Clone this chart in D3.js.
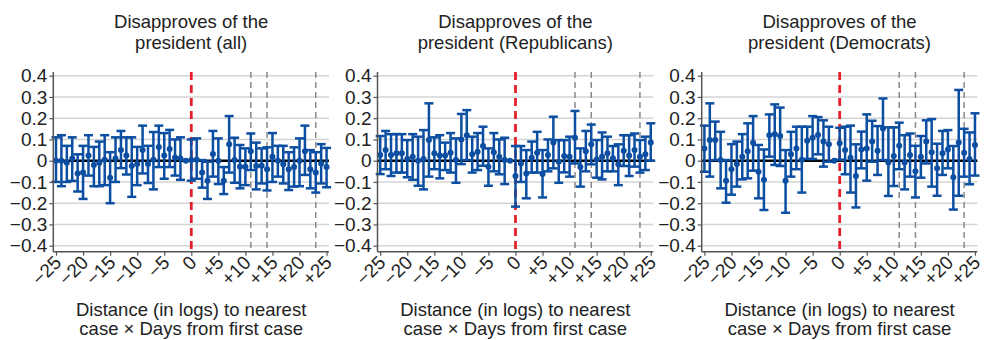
<!DOCTYPE html>
<html>
<head>
<meta charset="utf-8">
<script src="https://cdn.jsdelivr.net/npm/d3@7"></script>
<style>
  body { margin: 0; background: #fff; }
  svg { display: block; font-family: "Liberation Sans", Arial, sans-serif; }
</style>
</head>
<body>
<svg id="chart" width="984" height="340"></svg>
<script>
// x categories (distance x days interaction), k = -1 is the omitted reference
const distance = [-25, -24, -23, -22, -21, -20, -19, -18, -17, -16, -15, -14, -13, -12, -11, -10, -9, -8, -7, -6, -5, -4, -3, -2, -1,
  0, 1, 2, 3, 4, 5, 6, 7, 8, 9, 10, 11, 12, 13, 14, 15, 16, 17, 18, 19, 20, 21, 22, 23, 24, 25];
const xTicks = [-25, -20, -15, -10, -5, 0, 5, 10, 15, 20, 25];
const xTickLabels = ["−25", "−20", "−15", "−10", "−5", "0", "+5", "+10", "+15", "+20", "+25"];
const yTicks = [0.4, 0.3, 0.2, 0.1, 0, -0.1, -0.2, -0.3, -0.4];
const eventLines = [11, 14, 23];
const titles = [
  ["Disapproves of the", "president (all)"],
  ["Disapproves of the", "president (Republicans)"],
  ["Disapproves of the", "president (Democrats)"]
];
const xTitle = ["Distance (in logs) to nearest", "case × Days from first case"];

// panel 1: all
const allEst = [0, 0, -0.01, 0.01, -0.06, -0.055, 0.025, -0.02, -0.01, 0.005, -0.08, 0.01, 0.05, 0.025, -0.025, -0.015, 0.05, -0.015, 0.005, 0.065, 0.025, 0.055, 0.015, 0.01, 0,
  0.003, 0.005, -0.055, -0.094, 0.031, 0, -0.094, 0.077, 0.003, -0.028, -0.028, 0.045, -0.025, -0.024, -0.04, 0.019, 0, -0.017, -0.04, -0.03, 0, 0.045, -0.04, -0.055, -0.013, -0.03];
const allLo = [-0.1, -0.12, -0.1, -0.095, -0.145, -0.18, -0.07, -0.12, -0.12, -0.115, -0.2, -0.1, -0.035, -0.065, -0.17, -0.115, -0.06, -0.105, -0.135, -0.03, -0.085, -0.03, -0.07, -0.09, null,
  -0.094, -0.085, -0.127, -0.18, -0.075, -0.11, -0.157, -0.056, -0.104, -0.13, -0.115, -0.044, -0.135, -0.107, -0.14, -0.1, -0.075, -0.107, -0.138, -0.122, -0.12, -0.067, -0.13, -0.15, -0.107, -0.125];
const allHi = [0.11, 0.12, 0.07, 0.11, 0.03, 0.07, 0.12, 0.065, 0.09, 0.12, 0.04, 0.11, 0.14, 0.11, 0.11, 0.065, 0.165, 0.07, 0.135, 0.165, 0.13, 0.145, 0.1, 0.11, null,
  0.1, 0.105, 0.003, -0.005, 0.14, 0.105, -0.03, 0.21, 0.108, 0.074, 0.058, 0.128, 0.085, 0.058, 0.063, 0.13, 0.07, 0.07, 0.04, 0.063, 0.105, 0.165, 0.05, 0.04, 0.078, 0.06];

// panel 2: Republicans
const repEst = [0.027, 0.05, 0.027, 0.035, 0.035, 0.008, 0.019, 0, 0.008, 0.097, 0.035, 0.024, 0.024, 0.038, 0.003, 0.1, 0.12, 0.03, 0.042, 0.069, -0.028, 0.04, 0.019, 0.003, 0,
  -0.072, -0.013, -0.06, 0.014, 0.038, -0.063, 0.027, 0.086, -0.005, 0.022, 0.019, 0.108, -0.03, 0.045, 0.077, 0.006, 0.019, 0.035, 0.011, -0.017, 0.047, 0.024, 0.05, 0.019, 0.03, 0.086];
const repLo = [-0.063, -0.04, -0.072, -0.056, -0.056, -0.078, -0.09, -0.118, -0.135, -0.075, -0.04, -0.083, -0.044, -0.056, -0.104, -0.016, 0.003, -0.056, -0.044, -0.024, -0.118, -0.05, -0.064, -0.11, null,
  -0.216, -0.1, -0.177, -0.056, -0.056, -0.173, -0.05, -0.036, -0.104, -0.055, -0.075, -0.013, -0.122, -0.05, -0.017, -0.08, -0.088, -0.05, -0.05, -0.115, -0.025, -0.072, -0.028, -0.056, -0.044, 0];
const repHi = [0.116, 0.14, 0.125, 0.125, 0.125, 0.097, 0.125, 0.113, 0.144, 0.27, 0.11, 0.12, 0.085, 0.13, 0.105, 0.22, 0.238, 0.113, 0.13, 0.16, 0.058, 0.13, 0.1, 0.108, null,
  0.069, 0.069, 0.05, 0.09, 0.136, 0.05, 0.1, 0.207, 0.097, 0.097, 0.113, 0.234, 0.058, 0.14, 0.17, 0.097, 0.133, 0.113, 0.069, 0.077, 0.12, 0.12, 0.128, 0.097, 0.113, 0.176];

// panel 3: Democrats
const demEst = [0.058, 0.097, 0.097, 0.003, -0.094, -0.04, -0.016, 0.019, 0.045, 0.085, -0.052, -0.09, 0.12, 0.124, 0.116, -0.094, 0.03, 0.058, 0.005, 0.094, 0.108, 0.121, 0.09, 0.077, 0,
  0.082, 0.05, 0.014, -0.072, 0.053, 0.058, 0.09, 0.047, 0.152, -0.009, 0.022, 0.07, -0.008, 0.027, -0.05, 0.019, 0.09, 0.04, -0.036, 0.035, 0.053, -0.078, 0.086, 0.038, 0.008, 0.074];
const demLo = [-0.052, -0.075, 0.003, -0.13, -0.198, -0.16, -0.122, -0.088, -0.083, -0.047, -0.177, -0.232, 0.019, -0.02, -0.025, -0.245, -0.075, -0.04, -0.15, 0.008, 0.008, 0.03, -0.028, -0.005, null,
  0.005, -0.064, -0.15, -0.22, -0.036, -0.094, -0.005, -0.067, 0.003, -0.166, -0.119, -0.04, -0.135, -0.075, -0.173, -0.08, -0.013, -0.122, -0.165, -0.067, -0.036, -0.23, -0.165, -0.075, -0.111, -0.07];
const demHi = [0.165, 0.27, 0.184, 0.136, 0.003, 0.078, 0.09, 0.125, 0.176, 0.21, 0.074, 0.053, 0.218, 0.265, 0.25, 0.05, 0.136, 0.16, 0.16, 0.16, 0.21, 0.205, 0.19, 0.16, null,
  0.155, 0.16, 0.165, 0.077, 0.137, 0.218, 0.188, 0.163, 0.293, 0.157, 0.157, 0.179, 0.12, 0.128, 0.07, 0.116, 0.19, 0.196, 0.08, 0.14, 0.144, 0.069, 0.333, 0.15, 0.133, 0.223];

const panels = [
  { title: titles[0], est: allEst, lo: allLo, hi: allHi },
  { title: titles[1], est: repEst, lo: repLo, hi: repHi },
  { title: titles[2], est: demEst, lo: demLo, hi: demHi }
];

const svg = d3.select('#chart');
const blue = '#0c4ea2';
const plotW = 275.7;
const plotTop = 72, plotBottom = 251.7;
const tickFont = '19px';

const y = d3.scaleLinear().domain([-0.4, 0.4]).range([245.7, 75.7]);
const yFmt = d => d === 0 ? '0' : (d < 0 ? '\u2212' : '') + Math.abs(d).toFixed(1);

panels.forEach((p, i) => {
  const left = 53.3 + i * 324.2;
  const x = d3.scaleLinear().domain([-25.5, 25.45]).range([left, left + plotW]);
  const g = svg.append('g');
  const cx = left + plotW / 2;

  // 标题
  p.title.forEach((t, j) => {
    g.append('text').attr('x', cx).attr('y', 28 + j * 21)
      .attr('text-anchor', 'middle').attr('font-size', '18.5px').attr('fill', '#222').text(t);
  });

  // 网格线
  g.selectAll('.grid').data(yTicks.filter(d => d !== 0)).enter().append('line')
    .attr('x1', left).attr('x2', left + plotW)
    .attr('y1', d => y(d)).attr('y2', d => y(d))
    .attr('stroke', '#d4d4d4').attr('stroke-width', 1.5);

  // 事件虚线
  g.selectAll('.event').data(eventLines).enter().append('line')
    .attr('x1', d => x(d)).attr('x2', d => x(d))
    .attr('y1', plotTop).attr('y2', plotBottom)
    .attr('stroke', '#8a8a8a').attr('stroke-width', 1.5).attr('stroke-dasharray', '6,4');

  // 零线
  g.append('line').attr('x1', left).attr('x2', left + plotW)
    .attr('y1', y(0)).attr('y2', y(0)).attr('stroke', '#000').attr('stroke-width', 2.5);

  // 红色虚线 x=0
  g.append('line').attr('x1', x(0)).attr('x2', x(0))
    .attr('y1', plotTop).attr('y2', plotBottom)
    .attr('stroke', '#e4202b').attr('stroke-width', 2.8).attr('stroke-dasharray', '8,5');

  // 误差线
  const rows = distance.map((k, j) => ({ k, est: p.est[j], lo: p.lo[j], hi: p.hi[j] }));
  const bars = rows.filter(r => r.lo !== null);
  g.selectAll('.ci').data(bars).enter().append('line')
    .attr('x1', d => x(d.k)).attr('x2', d => x(d.k))
    .attr('y1', d => y(d.lo)).attr('y2', d => y(d.hi))
    .attr('stroke', blue).attr('stroke-width', 2.5);
  ['lo', 'hi'].forEach(key => {
    g.selectAll('.cap-' + key).data(bars).enter().append('line')
      .attr('x1', d => x(d.k) - 4.5).attr('x2', d => x(d.k) + 4.5)
      .attr('y1', d => y(d[key])).attr('y2', d => y(d[key]))
      .attr('stroke', blue).attr('stroke-width', 2.5);
  });
  g.selectAll('.pt').data(rows).enter().append('circle')
    .attr('cx', d => x(d.k)).attr('cy', d => y(d.est)).attr('r', 3)
    .attr('fill', blue);

  // y轴
  const yAxis = d3.axisLeft(y).tickValues(yTicks).tickSize(4).tickPadding(2).tickFormat(yFmt);
  const ya = g.append('g').attr('transform', `translate(${left},0)`).call(yAxis);
  ya.select('.domain').remove();
  ya.selectAll('.tick line').attr('stroke', '#555').attr('stroke-width', 1.2);
  ya.selectAll('.tick text').attr('font-size', tickFont).attr('fill', '#222')
    .attr('font-family', '"Liberation Sans", Arial, sans-serif');
  g.append('line').attr('x1', left).attr('x2', left).attr('y1', plotTop).attr('y2', plotBottom)
    .attr('stroke', '#555').attr('stroke-width', 1.5);

  // x轴
  const xAxis = d3.axisBottom(x).tickValues(xTicks).tickSize(4).tickFormat((d, j) => xTickLabels[j]);
  const xa = g.append('g').attr('transform', `translate(0,${plotBottom})`).call(xAxis);
  xa.select('.domain').remove();
  xa.selectAll('.tick line').attr('stroke', '#555').attr('stroke-width', 1.2);
  xa.selectAll('.tick text').attr('font-size', tickFont).attr('fill', '#222')
    .attr('font-family', '"Liberation Sans", Arial, sans-serif')
    .attr('text-anchor', 'end').attr('dy', null).attr('y', 0)
    .attr('transform', 'translate(6,12) rotate(-45)');
  g.append('line').attr('x1', left).attr('x2', left + plotW).attr('y1', plotBottom).attr('y2', plotBottom)
    .attr('stroke', '#555').attr('stroke-width', 1.5);

  // x轴标题
  xTitle.forEach((t, j) => {
    g.append('text').attr('x', cx).attr('y', 316 + j * 19)
      .attr('text-anchor', 'middle').attr('font-size', '18.5px').attr('fill', '#222').text(t);
  });
});
</script>
</body>
</html>
